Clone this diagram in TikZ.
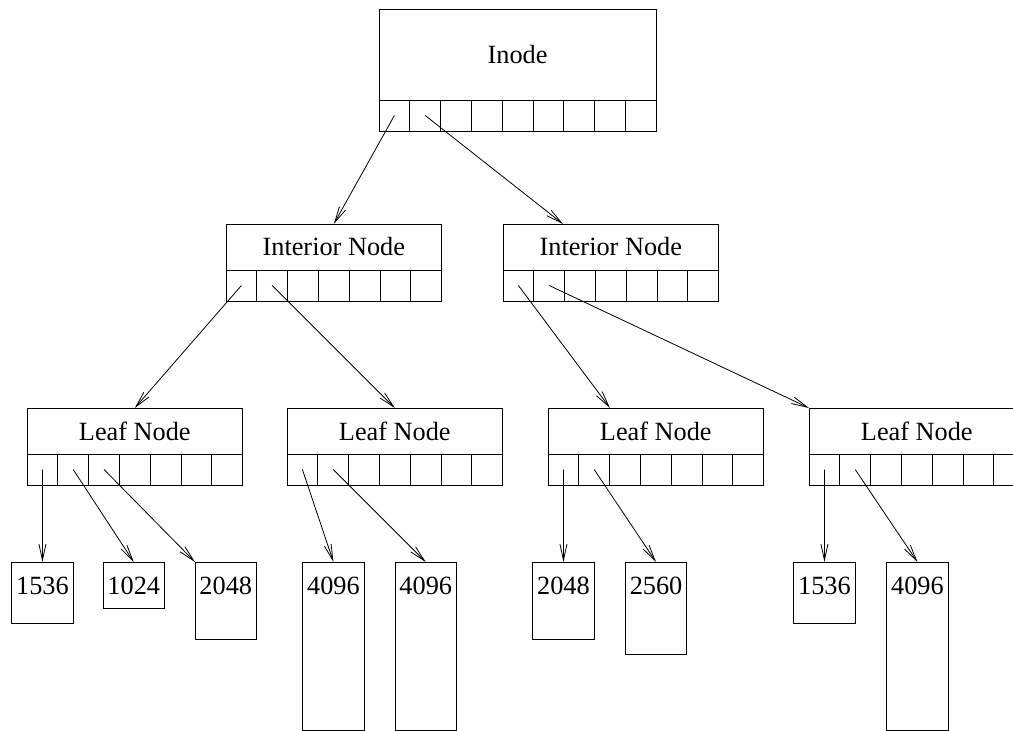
\documentclass[tikz,border=0pt]{standalone}
\usepackage{fontspec}
\setmainfont{Liberation Serif}
\usetikzlibrary{arrows.meta,positioning}

\begin{document}
\begin{tikzpicture}[x=1pt,y=-1pt,line width=.8pt,
  every node/.style={font=\fontsize{26.3}{30}\selectfont},
  head/.style={draw,minimum height=46pt,inner sep=0pt,outer sep=0pt,anchor=north west},
  cell/.style={draw,minimum width=30.8pt,minimum height=31pt,inner sep=0pt,outer sep=0pt,anchor=north west},
  blk/.style={draw,minimum width=61.5pt,inner sep=0pt,outer sep=0pt,anchor=north west},
  num/.style={anchor=base,inner sep=0pt},
  ptr/.style={-{Straight Barb[length=16pt,width=7pt]}}]
\useasboundingbox (0,0) rectangle (1013,731);
% index nodes
\node[head,minimum width=277.2pt,minimum height=91pt] (in) at (379,9) {Inode};
\node[head,minimum width=215.6pt] (ia) at (226,224) {Interior Node};
\node[head,minimum width=215.6pt] (ib) at (503,224) {Interior Node};
\node[head,minimum width=215.6pt] (la) at (27,408) {Leaf Node};
\node[head,minimum width=215.6pt] (lb) at (287,408) {Leaf Node};
\node[head,minimum width=215.6pt] (lc) at (548,408) {Leaf Node};
\node[head,minimum width=215.6pt] (ld) at (809,408) {Leaf Node};
% pointer slots under each node
\foreach \r/\n in {in/9,ia/7,ib/7,la/7,lb/7,lc/7,ld/7}{
  \node[cell] (\r1) at (\r.south west) {};
  \foreach \i [remember=\i as \p (initially 1)] in {2,...,\n}
    \node[cell,right=0pt of \r\p] (\r\i) {};
}
% data blocks
\node[blk,minimum height=61pt] (b1) at (11.7,562) {};
\node[blk,minimum height=46pt] (b2) at (103,562) {};
\node[blk,minimum height=77pt] (b3) at (195,562) {};
\node[blk,minimum height=168pt] (b4) at (302.7,562) {};
\node[blk,minimum height=168pt] (b5) at (395,562) {};
\node[blk,minimum height=77pt] (b6) at (532.7,562) {};
\node[blk,minimum height=92pt] (b7) at (625.3,562) {};
\node[blk,minimum height=61pt] (b8) at (793.7,562) {};
\node[blk,minimum height=168pt] (b9) at (886.7,562) {};
\node[num] (n1) at ([yshift=-32pt]b1.north) {1536};
\node[num] (n2) at ([yshift=-32pt]b2.north) {1024};
\node[num] (n3) at ([yshift=-32pt]b3.north) {2048};
\node[num] (n4) at ([yshift=-32pt]b4.north) {4096};
\node[num] (n5) at ([yshift=-32pt]b5.north) {4096};
\node[num] (n6) at ([yshift=-32pt]b6.north) {2048};
\node[num] (n7) at ([yshift=-32pt]b7.north) {2560};
\node[num] (n8) at ([yshift=-32pt]b8.north) {1536};
\node[num] (n9) at ([yshift=-32pt]b9.north) {4096};
% pointers
\draw[ptr] (in1.center) -- (ia.north);
\draw[ptr] (in2.center) -- ([xshift=60pt]ib.north west);
\draw[ptr] (ia1.center) -- (la.north);
\draw[ptr] (ia2.center) -- (lb.north);
\draw[ptr] (ib1.center) -- ([xshift=62pt]lc.north west);
\draw[ptr] (ib2.center) -- (ld.north west);
\draw[ptr] (la1.center) -- (b1.north);
\draw[ptr] (la2.center) -- (b2.north);
\draw[ptr] (la3.center) -- (b3.north west);
\draw[ptr] (lb1.center) -- (b4.north);
\draw[ptr] (lb2.center) -- (b5.north);
\draw[ptr] (lc1.center) -- (b6.north);
\draw[ptr] (lc2.center) -- (b7.north);
\draw[ptr] (ld1.center) -- (b8.north);
\draw[ptr] (ld2.center) -- (b9.north);
\end{tikzpicture}
\end{document}
